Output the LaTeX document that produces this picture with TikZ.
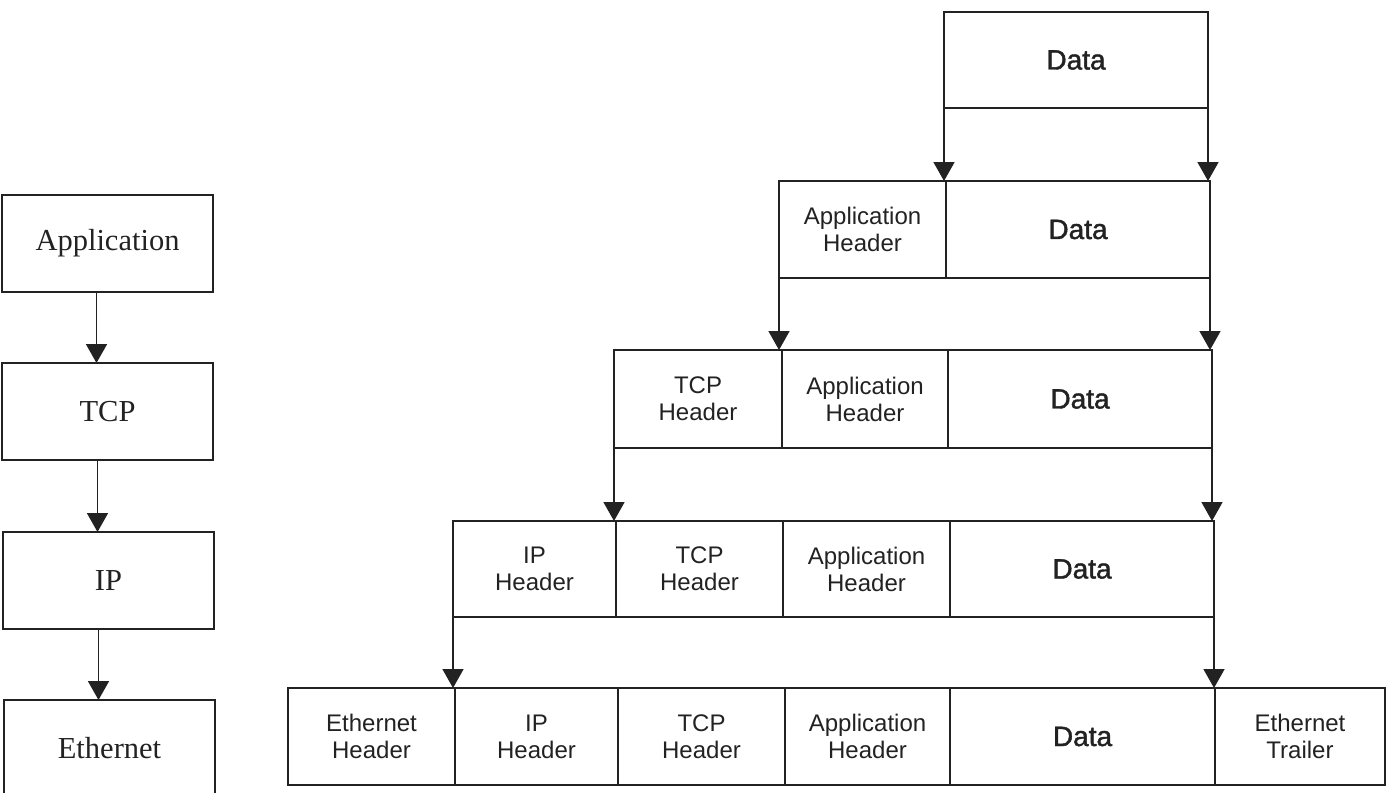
\documentclass[tikz,border=0pt]{standalone}
\usepackage{fontspec}
\setmainfont{Liberation Sans}
\newfontfamily\serifa{Liberation Serif}
\newfontfamily\datafont[FakeBold=1.5]{Liberation Sans}
\usetikzlibrary{arrows.meta}
\definecolor{ink}{HTML}{222222}
\tikzset{
  cell/.style={draw=ink, line width=1.7pt, inner sep=0pt, outer sep=0pt, rectangle,
    align=center, text=ink, font=\fontsize{24}{27}\selectfont},
  datacell/.style={cell, font=\datafont\fontsize{28}{30}\selectfont},
  layer/.style={cell, minimum width=211pt, minimum height=97pt, font=\serifa\fontsize{30.5}{34}\selectfont},
  flow/.style={draw=ink, line width=1.7pt, -{Triangle[width=21pt,length=19pt]}}
}
\begin{document}
\begin{tikzpicture}[x=1pt,y=-1pt]
\useasboundingbox (0,0) rectangle (1394,792);
% left column
\node[layer] (app) at (107.5,243.5) {Application};
\node[layer] (tcp) at (107.5,411.5) {TCP};
\node[layer] (ip)  at (108.5,580.5) {IP};
\node[layer] (eth) at (109.5,748.5) {Ethernet};
\draw[flow] ([xshift=-11pt]app.south) -- ([xshift=-11pt]app.south |- tcp.north);
\draw[flow] ([xshift=-10pt]tcp.south) -- ([xshift=-10pt]tcp.south |- ip.north);
\draw[flow] ([xshift=-10pt]ip.south) -- ([xshift=-10pt]ip.south |- eth.north);
% row 1
\node[datacell, minimum width=264pt, minimum height=96pt] (r1d) at (1076,60) {Data};
% row 2
\node[cell, minimum width=167pt, minimum height=97pt] (r2a) at (862.5,229.5) {Application\\Header};
\node[datacell, minimum width=264pt, minimum height=97pt] (r2d) at (1078,229.5) {Data};
% row 3
\node[cell, minimum width=168pt, minimum height=98pt] (r3t) at (698,399) {TCP\\Header};
\node[cell, minimum width=166pt, minimum height=98pt] (r3a) at (865,399) {Application\\Header};
\node[datacell, minimum width=264pt, minimum height=98pt] (r3d) at (1080,399) {Data};
% row 4
\node[cell, minimum width=163pt, minimum height=96pt] (r4i) at (534.5,569) {IP\\Header};
\node[cell, minimum width=167pt, minimum height=96pt] (r4t) at (699.5,569) {TCP\\Header};
\node[cell, minimum width=167pt, minimum height=96pt] (r4a) at (866.5,569) {Application\\Header};
\node[datacell, minimum width=264pt, minimum height=96pt] (r4d) at (1082,569) {Data};
% row 5
\node[cell, minimum width=167pt, minimum height=97pt] (r5e) at (371.5,736.5) {Ethernet\\Header};
\node[cell, minimum width=163pt, minimum height=97pt] (r5i) at (536.5,736.5) {IP\\Header};
\node[cell, minimum width=167pt, minimum height=97pt] (r5t) at (701.5,736.5) {TCP\\Header};
\node[cell, minimum width=165pt, minimum height=97pt] (r5a) at (867.5,736.5) {Application\\Header};
\node[datacell, minimum width=265pt, minimum height=97pt] (r5d) at (1082.5,736.5) {Data};
\node[cell, minimum width=170pt, minimum height=97pt] (r5r) at (1300,736.5) {Ethernet\\Trailer};
% arrows
\draw[flow] (r1d.south west) -- (r1d.south west |- r2a.north);
\draw[flow] (r1d.south east) -- (r1d.south east |- r2d.north);
\draw[flow] (r2a.south west) -- (r2a.south west |- r3a.north);
\draw[flow] (r2d.south east) -- (r2d.south east |- r3d.north);
\draw[flow] (r3t.south west) -- (r3t.south west |- r4t.north);
\draw[flow] (r3d.south east) -- (r3d.south east |- r4d.north);
\draw[flow] (r4i.south west) -- (r4i.south west |- r5i.north);
\draw[flow] (r4d.south east) -- (r4d.south east |- r5d.north);
\end{tikzpicture}
\end{document}
